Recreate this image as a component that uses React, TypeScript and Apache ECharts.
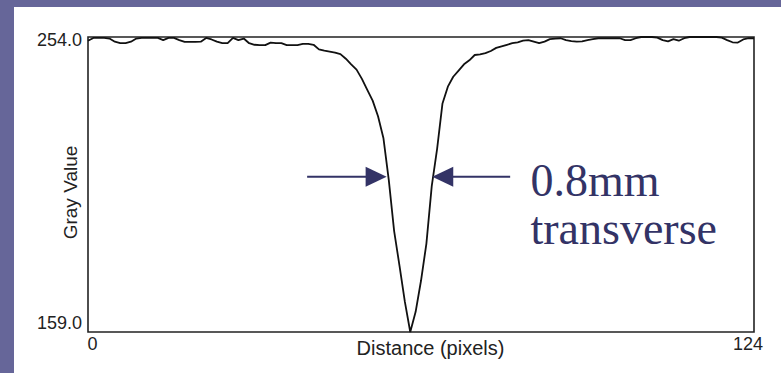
import { useEffect, useRef } from 'react';
import * as echarts from 'echarts';

// Line profile across the scratch: gray value sampled at each pixel along the line.
const distanceTicks = [0, 124];
const grayTicks = [159, 254];
const grayValues = [
  252.8, 253.7, 253.7, 253.7, 253.5, 252.5, 252.0, 252.0, 252.5, 253.5,
  253.7, 253.7, 253.7, 253.7, 253.0, 253.7, 253.7, 253.0, 252.4, 252.4,
  252.4, 252.5, 253.7, 253.2, 252.5, 252.0, 252.0, 253.7, 253.0, 253.5,
  252.0, 251.5, 251.4, 251.4, 252.2, 252.0, 252.0, 251.4, 251.4, 251.4,
  251.8, 251.8, 251.5, 250.0, 249.6, 249.3, 249.0, 248.5, 247.0, 245.2,
  243.5, 240.5, 237.0, 233.5, 228.5, 221.5, 208.0, 191.5, 180.3, 168.7,
  159.0, 165.5, 175.5, 187.4, 206.0, 218.0, 232.6, 238.0, 241.2, 243.2,
  245.2, 246.5, 248.2, 248.4, 248.8, 249.5, 250.5, 251.0, 251.5, 252.0,
  252.3, 252.8, 253.0, 252.5, 252.0, 252.5, 253.3, 253.5, 253.6, 253.0,
  252.7, 252.5, 252.6, 253.0, 253.3, 253.6, 253.6, 253.6, 253.6, 253.6,
  253.0, 253.0, 253.6, 254.0, 254.0, 254.0, 253.8, 253.0, 252.6, 253.3,
  252.8, 253.6, 254.0, 254.0, 254.0, 254.0, 254.0, 254.0, 253.8, 253.0,
  252.3, 252.2, 253.2, 253.6, 253.6,
];

// Width annotation: two arrows pointing at the profile flanks, plus caption.
const arrowLevel = 209;
const leftArrow = [40.8, 55.6];
const rightArrow = [64.1, 78.6];
const captionLines = ['0.8mm', 'transverse'];

const SANS = '"Liberation Sans", Arial, Helvetica, sans-serif';
const SERIF = '"Liberation Serif", "Times New Roman", serif';
const NAVY = '#333366';
const FRAME = '#666699';
const INK = '#222222';

export default function App() {
  const ref = useRef<HTMLDivElement>(null);

  useEffect(() => {
    const el = ref.current;
    if (!el) return;
    const chart = echarts.init(el, null, { renderer: 'svg' });

    const points = grayValues.map((v, i) => [i, v]);

    chart.setOption({
      animation: false,
      backgroundColor: '#ffffff',
      grid: {
        left: 88,
        top: 37,
        width: 666,
        height: 295,
        show: true,
        borderColor: INK,
        borderWidth: 1.6,
        backgroundColor: 'transparent',
      },
      xAxis: {
        type: 'value',
        min: distanceTicks[0],
        max: distanceTicks[distanceTicks.length - 1],
        name: 'Distance (pixels)',
        nameLocation: 'middle',
        nameGap: 6,
        nameMoveOverlap: false,
        nameTextStyle: {
          fontFamily: SANS,
          fontSize: 20,
          color: INK,
          padding: [0, 0, 0, 19],
        },
        axisLine: { show: false },
        axisTick: { show: false },
        splitLine: { show: false },
        axisLabel: {
          customValues: distanceTicks,
          margin: 3,
          fontFamily: SANS,
          fontSize: 18,
          color: INK,
          formatter: (v: number) =>
            v === distanceTicks[0] ? `{first|${v}}` : `{last|${v}}`,
          rich: {
            first: { fontFamily: SANS, fontSize: 18, color: INK, padding: [0, 0, 0, 9] },
            last: { fontFamily: SANS, fontSize: 18, color: INK, padding: [0, 12, 0, 0] },
          },
        },
      },
      yAxis: {
        type: 'value',
        min: grayTicks[0],
        max: grayTicks[grayTicks.length - 1],
        name: 'Gray Value',
        nameLocation: 'middle',
        nameGap: 8,
        nameRotate: 90,
        nameMoveOverlap: false,
        nameTextStyle: {
          fontFamily: SANS,
          fontSize: 19,
          color: INK,
          padding: [0, 16, 0, 0],
        },
        axisLine: { show: false },
        axisTick: { show: false },
        splitLine: { show: false },
        axisLabel: {
          customValues: grayTicks,
          margin: 6,
          fontFamily: SANS,
          fontSize: 18,
          color: INK,
          formatter: (v: number) =>
            v === grayTicks[0] ? `{low|${v.toFixed(1)}}` : `{high|${v.toFixed(1)}}`,
          rich: {
            low: { fontFamily: SANS, fontSize: 18, color: INK, padding: [0, 0, 18, 0] },
            high: { fontFamily: SANS, fontSize: 18, color: INK, padding: [5, 0, 0, 0] },
          },
        },
      },
      series: [
        {
          type: 'line',
          data: points,
          showSymbol: false,
          clip: false,
          lineStyle: { color: '#111111', width: 1.8 },
        },
      ],
    });

    const px = (x: number, y: number) =>
      chart.convertToPixel({ gridIndex: 0 }, [x, y]) as number[];

    const headLen = 21;
    const headHalf = 10;
    const lTail = px(leftArrow[0], arrowLevel);
    const lTip = px(leftArrow[1], arrowLevel);
    const rTip = px(rightArrow[0], arrowLevel);
    const rTail = px(rightArrow[1], arrowLevel);

    chart.setOption({
      graphic: [
        { type: 'rect', z: 0, silent: true, shape: { x: 0, y: 0, width: 781, height: 7 }, style: { fill: FRAME } },
        { type: 'rect', z: 0, silent: true, shape: { x: 0, y: 0, width: 14, height: 373 }, style: { fill: FRAME } },
        {
          type: 'line',
          z: 10,
          shape: { x1: lTail[0], y1: lTail[1], x2: lTip[0] - headLen + 2, y2: lTip[1] },
          style: { stroke: NAVY, lineWidth: 2 },
        },
        {
          type: 'polygon',
          z: 10,
          shape: {
            points: [
              [lTip[0], lTip[1]],
              [lTip[0] - headLen, lTip[1] - headHalf],
              [lTip[0] - headLen, lTip[1] + headHalf],
            ],
          },
          style: { fill: NAVY },
        },
        {
          type: 'line',
          z: 10,
          shape: { x1: rTip[0] + headLen - 2, y1: rTip[1], x2: rTail[0], y2: rTail[1] },
          style: { stroke: NAVY, lineWidth: 2 },
        },
        {
          type: 'polygon',
          z: 10,
          shape: {
            points: [
              [rTip[0], rTip[1]],
              [rTip[0] + headLen, rTip[1] - headHalf],
              [rTip[0] + headLen, rTip[1] + headHalf],
            ],
          },
          style: { fill: NAVY },
        },
        {
          type: 'text',
          z: 10,
          x: 530.5,
          y: 204,
          style: {
            text: captionLines.join('\n'),
            font: `46px ${SERIF}`,
            lineHeight: 48,
            fill: NAVY,
            align: 'left',
            verticalAlign: 'middle',
          },
        },
      ],
    });

    return () => chart.dispose();
  }, []);

  return (
    <div
      ref={ref}
      style={{ position: 'fixed', left: 0, top: 0, width: 781, height: 373 }}
    />
  );
}
